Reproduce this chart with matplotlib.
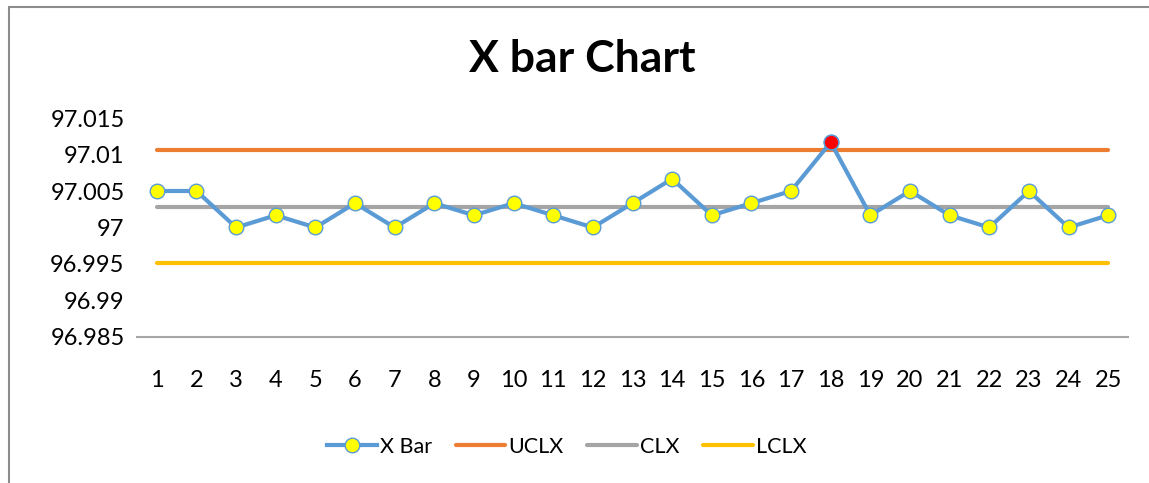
import numpy as np
import matplotlib
matplotlib.use("Agg")
import matplotlib.pyplot as plt
from matplotlib.patches import Rectangle

plt.rcParams['font.family'] = ['Lato', 'DejaVu Sans']

samples = list(range(1, 26))
xbar = [97.005, 97.005, 97.0, 97.00167, 97.0, 97.00333, 97.0, 97.00333, 97.00167, 97.00333,
        97.00167, 97.0, 97.00333, 97.00667, 97.00167, 97.00333, 97.005, 97.01167, 97.00167, 97.005,
        97.00167, 97.0, 97.005, 97.0, 97.00167]
clx = 97.00287
uclx = 97.01057
lclx = 96.99517
out_idx = [17]  # sample 18 above UCL

blue = "#5B9BD5"
fig = plt.figure(figsize=(11.49, 4.83), dpi=100)
ax = fig.add_axes([137/1149, 1-337/483, (1128-137)/1149, (337-118)/483])

ax.plot(samples, [uclx]*25, color="#ED7D31", lw=3, label="UCLX", solid_capstyle="round", zorder=2)
ax.plot(samples, [clx]*25, color="#A5A5A5", lw=3, label="CLX", solid_capstyle="round", zorder=2)
ax.plot(samples, [lclx]*25, color="#FFC000", lw=3, label="LCLX", solid_capstyle="round", zorder=2)
ax.plot(samples, xbar, color=blue, lw=3, marker="o", ms=10.5, mfc="#FFFF00", mec=blue,
        mew=1.0, label="X Bar", zorder=3)
ax.plot([samples[i] for i in out_idx], [xbar[i] for i in out_idx], "o", ms=10.5,
        mfc="#FF0000", mec=blue, mew=1.0, zorder=4)

ax.set_xlim(0.5, 25.5)
ax.set_ylim(96.985, 97.015)
ax.set_yticks(np.arange(96.985, 97.0151, 0.005))
ax.set_yticklabels(["96.985", "96.99", "96.995", "97", "97.005", "97.01", "97.015"])
ax.set_xticks(samples)
ax.tick_params(axis="both", length=0, labelsize=17, colors="black")
ax.tick_params(axis="x", pad=24)
ax.tick_params(axis="y", pad=9)
for s in ["top", "right", "left"]:
    ax.spines[s].set_visible(False)
ax.spines["bottom"].set_color("#A6A6A6")
ax.spines["bottom"].set_linewidth(1.5)

fig.text(582/1149, 1-59/483, "X bar Chart", fontsize=32, fontweight="bold",
         ha="center", va="center")

h, l = ax.get_legend_handles_labels()
order = [3, 0, 1, 2]
fig.legend([h[i] for i in order], [l[i] for i in order], loc="center",
           bbox_to_anchor=(567/1149, 1-447/483), ncol=4, frameon=False, fontsize=15.5,
           handlelength=2.3, handletextpad=0.15, columnspacing=1.1)

fig.add_artist(Rectangle((8.5/1149, -0.1), 1.2, 1-6.5/483 + 0.1, transform=fig.transFigure,
                         fill=False, edgecolor="#8C8C8C", lw=1.5))
fig.savefig("out.png", dpi=100)
